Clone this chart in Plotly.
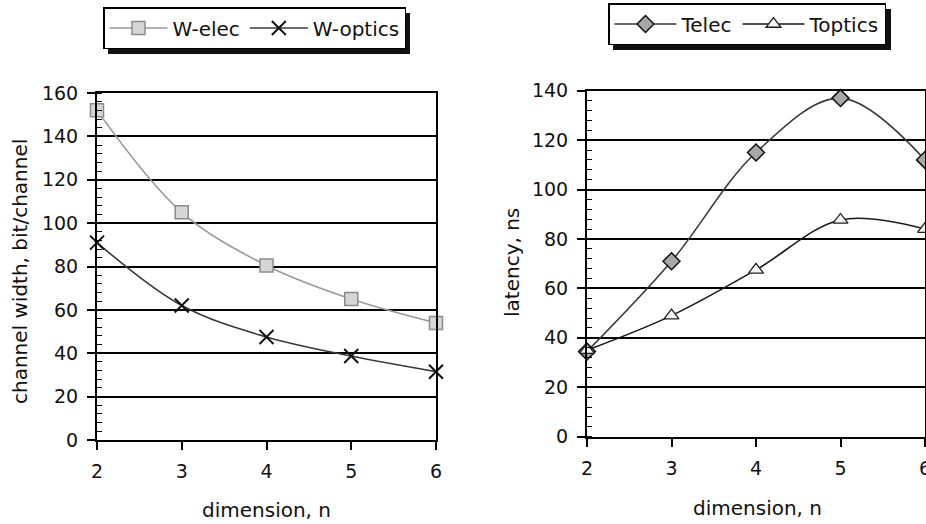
import plotly.graph_objects as go

# ---------------- data ----------------
dimension = [2, 3, 4, 5, 6]
w_elec = [152, 105, 80.5, 65, 54]
w_optics = [91, 62, 47.5, 38.7, 31.5]
t_elec = [34.5, 71, 115, 137, 112]
t_optics = [35, 49, 67.5, 87.7, 84]

left_yticks = [0, 20, 40, 60, 80, 100, 120, 140, 160]
right_yticks = [0, 20, 40, 60, 80, 100, 120, 140]

W, H = 926, 524
FONT = "DejaVu Sans"


def px(x):
    return x / W


def py(y):
    return 1 - y / H


fig = go.Figure()

fig.add_trace(go.Scatter(
    x=dimension, y=w_elec, name="W-elec", mode="lines+markers",
    line=dict(color="#9a9a9a", width=1.6, shape="spline", smoothing=1),
    marker=dict(symbol="square", size=13, color="#d6d6d6",
                line=dict(color="#8c8c8c", width=1.5)),
    xaxis="x", yaxis="y", legend="legend", cliponaxis=False))
fig.add_trace(go.Scatter(
    x=dimension, y=w_optics, name="W-optics", mode="lines+markers",
    line=dict(color="#3a3a3a", width=1.6, shape="spline", smoothing=1),
    marker=dict(symbol="x-thin", size=14, color="#111111",
                line=dict(color="#111111", width=2)),
    xaxis="x", yaxis="y", legend="legend", cliponaxis=False))
fig.add_trace(go.Scatter(
    x=dimension, y=t_elec, name="Telec", mode="lines+markers",
    line=dict(color="#3a3a3a", width=1.6, shape="spline", smoothing=1),
    marker=dict(symbol="diamond", size=13, color="#a8a8a8",
                line=dict(color="#111111", width=1.5)),
    xaxis="x2", yaxis="y2", legend="legend2", cliponaxis=False))
fig.add_trace(go.Scatter(
    x=dimension, y=t_optics, name="Toptics", mode="lines+markers",
    line=dict(color="#1a1a1a", width=1.6, shape="spline", smoothing=1),
    marker=dict(symbol="triangle-up", size=13, color="#f4f4f4",
                line=dict(color="#222222", width=1.3)),
    xaxis="x2", yaxis="y2", legend="legend2", cliponaxis=False))

tickfont = dict(family=FONT, size=19, color="#111111")

xcommon = dict(range=[2, 6], tickvals=dimension, showline=True, linecolor="black",
               linewidth=2, mirror=True, ticks="outside", ticklen=8, tickwidth=1.5,
               tickcolor="black", showgrid=False, zeroline=False, tickfont=tickfont,
               automargin=False, ticklabelstandoff=5, ticklabeloverflow="allow")
ycommon = dict(dtick=20, showline=True, linecolor="black", linewidth=2, mirror=True,
               ticks="outside", ticklen=8, tickwidth=1.5, tickcolor="black",
               showgrid=True, gridcolor="black", gridwidth=1.5, zeroline=False,
               tickfont=tickfont, automargin=False, ticklabelstandoff=5,
               minor=dict(dtick=4, ticks="inside", ticklen=5, tickwidth=1.3,
                          tickcolor="black", showgrid=False))

legfont = dict(family=FONT, size=20, color="#111111")

fig.update_layout(
    width=W, height=H,
    margin=dict(l=0, r=0, t=0, b=0),
    paper_bgcolor="white", plot_bgcolor="white",
    font=dict(family=FONT, color="#111111"),
    xaxis=dict(domain=[px(97), px(436)], anchor="y", **xcommon),
    yaxis=dict(domain=[py(440), py(93)], anchor="x", range=[0, 160],
               tickvals=left_yticks, **ycommon),
    xaxis2=dict(domain=[px(587), px(925)], anchor="y2", **xcommon),
    yaxis2=dict(domain=[py(436.7), py(90.7)], anchor="x2", range=[0, 140],
                tickvals=right_yticks, **ycommon),
    legend=dict(orientation="h", x=px(103), y=py(7), xanchor="left", yanchor="top",
                bgcolor="white", bordercolor="black", borderwidth=1.5,
                itemwidth=58, font=legfont),
    legend2=dict(orientation="h", x=px(608), y=py(3), xanchor="left", yanchor="top",
                 bgcolor="white", bordercolor="black", borderwidth=1.5,
                 itemwidth=62, font=legfont),
    showlegend=True,
)

# legend drop shadows
fig.add_shape(type="rect", xref="paper", yref="paper", x0=px(108), x1=px(410),
              y0=py(54), y1=py(13), fillcolor="#111111", line=dict(width=0), layer="below")
fig.add_shape(type="rect", xref="paper", yref="paper", x0=px(613), x1=px(891),
              y0=py(50), y1=py(9), fillcolor="#111111", line=dict(width=0), layer="below")

titlefont = dict(family=FONT, size=20, color="#111111")
fig.add_annotation(text="dimension, n", x=px(266.5), y=py(510), xref="paper", yref="paper",
                   showarrow=False, font=titlefont, xanchor="center", yanchor="middle")
fig.add_annotation(text="dimension, n", x=px(757), y=py(508), xref="paper", yref="paper",
                   showarrow=False, font=titlefont, xanchor="center", yanchor="middle")
fig.add_annotation(text="channel width, bit/channel", x=px(20), y=py(272), xref="paper",
                   yref="paper", showarrow=False, font=titlefont, textangle=-90,
                   xanchor="center", yanchor="middle")
fig.add_annotation(text="latency, ns", x=px(512), y=py(263), xref="paper", yref="paper",
                   showarrow=False, font=titlefont, textangle=-90,
                   xanchor="center", yanchor="middle")

fig.write_html("out.html",
               config={"displayModeBar": False},
               post_script="document.body.style.margin='0px';"
                           "document.body.style.overflow='hidden';")
